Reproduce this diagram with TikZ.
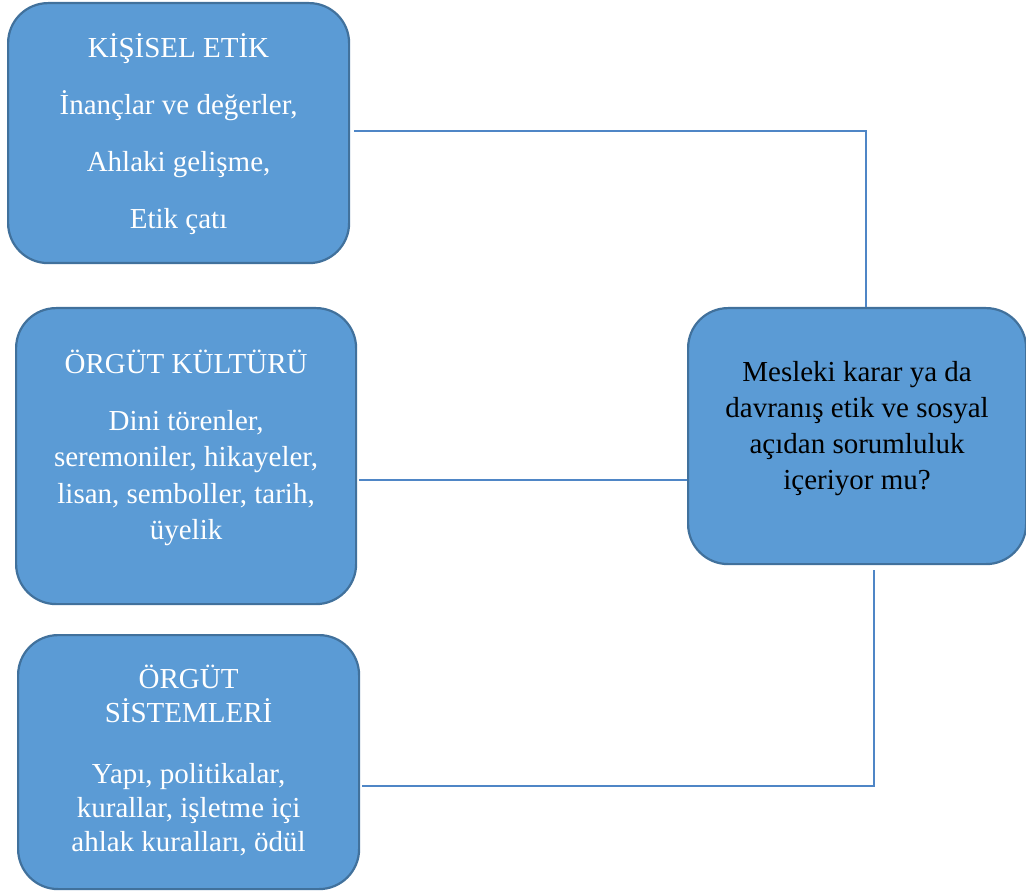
\documentclass[tikz,border=0pt]{standalone}
\usepackage{fontspec}
\setmainfont{Liberation Serif}
\definecolor{boxfill}{HTML}{5B9BD5}
\definecolor{boxedge}{HTML}{41719C}
\definecolor{wirecol}{HTML}{4F86C6}
\begin{document}
\begin{tikzpicture}[x=1pt,y=-1pt,
  box/.style={draw=boxedge, line width=2.2pt, fill=boxfill, rounded corners=40pt,
              inner sep=0pt, anchor=north west},
  txt/.style={align=center, text=white, inner sep=0pt},
  wire/.style={draw=wirecol, line width=1.4pt}]
\useasboundingbox (0,0) rectangle (1026,896);

% boxes
\node[box, minimum width=341pt, minimum height=260pt] (kisisel) at (7,2) {};
\node[box, minimum width=340pt, minimum height=296pt] (kultur) at (15,307) {};
\node[box, minimum width=341pt, minimum height=254pt] (sistem) at (17,634) {};
\node[box, minimum width=338pt, minimum height=256pt] (karar) at (687,307) {};

% box texts
\node[txt, font=\fontsize{29}{57}\selectfont, yshift=-1pt] (kisiselT) at (kisisel.center)
  {KİŞİSEL ETİK\\İnançlar ve değerler,\\Ahlaki gelişme,\\Etik çatı};
\node[txt, font=\fontsize{29}{36.5}\selectfont, yshift=8pt] (kulturT) at (kultur.center)
  {ÖRGÜT KÜLTÜRÜ\\[20pt]Dini törenler,\\seremoniler, hikayeler,\\lisan, semboller, tarih,\\üyelik};
\node[txt, font=\fontsize{29}{34}\selectfont, yshift=1.5pt] (sistemT) at (sistem.center)
  {ÖRGÜT\\SİSTEMLERİ\\[27pt]Yapı, politikalar,\\kurallar, işletme içi\\ahlak kuralları, ödül};
\node[txt, text=black, font=\fontsize{29}{36}\selectfont, yshift=8pt] (kararT) at (karar.center)
  {Mesleki karar ya da\\davranış etik ve sosyal\\açıdan sorumluluk\\içeriyor mu?};

% connector anchors
\coordinate (topbend) at (866,131);
\coordinate (midrow) at (0,480);
\coordinate (botbend) at (874,786);

% connectors
\draw[wire] ([xshift=4pt]kisisel.east |- topbend) -- (topbend) -- (topbend |- karar.north);
\draw[wire] ([xshift=2pt]kultur.east |- midrow) -- (karar.west |- midrow);
\draw[wire] ([xshift=2pt]sistem.east |- botbend) -- (botbend) -- ([yshift=-5pt]botbend |- karar.south);
\end{tikzpicture}
\end{document}
